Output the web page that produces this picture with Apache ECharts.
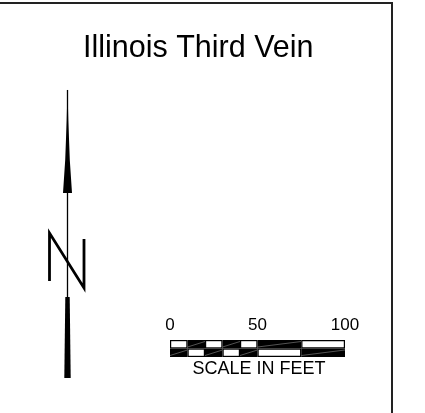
<!DOCTYPE html>
<html>
<head>
<meta charset="utf-8">
<script src="https://cdn.jsdelivr.net/npm/echarts@6/dist/echarts.min.js"></script>
<style>html,body{margin:0;padding:0;background:#fff}#c{width:425px;height:413px}</style>
</head>
<body>
<div id="c"></div>
<script>
// Data
const titleText = "Illinois Third Vein";
const scaleBreaks = [0, 10, 20, 30, 40, 50, 75, 100];   // feet
const scaleRows = ["top", "bottom"];
const topRowFill = ["white", "black", "white", "black", "white", "black", "white"];
const scaleTickLabels = [0, 50, 100];
const scaleCaption = "SCALE IN FEET";

// Build segment data: [start, end, rowIndex, isBlack]
const segData = [];
for (let i = 0; i < scaleBreaks.length - 1; i++) {
  const topBlack = topRowFill[i] === "black";
  segData.push([scaleBreaks[i], scaleBreaks[i + 1], 0, topBlack ? 1 : 0]);
  segData.push([scaleBreaks[i], scaleBreaks[i + 1], 1, topBlack ? 0 : 1]);
}

const chart = echarts.init(document.getElementById('c'), null, {renderer: 'canvas'});
const FONT = '"Liberation Sans", Arial, sans-serif';

chart.setOption({
  animation: false,
  backgroundColor: '#fff',
  title: {
    text: titleText,
    left: 78,
    top: 28,
    textStyle: {fontFamily: FONT, fontSize: 30.5, fontWeight: 'normal', color: '#000'}
  },
  grid: {left: 170, width: 175, top: 340, height: 17},
  xAxis: {
    type: 'value', min: 0, max: 100, interval: 50, position: 'top',
    axisLine: {show: false}, axisTick: {show: false}, splitLine: {show: false},
    axisLabel: {
      margin: 6, fontFamily: FONT, fontSize: 17, color: '#000',
      formatter: v => scaleTickLabels.indexOf(v) >= 0 ? String(v) : ''
    }
  },
  yAxis: {
    type: 'category', data: scaleRows, inverse: true, show: false
  },
  series: [{
    type: 'custom',
    data: segData,
    encode: {x: [0, 1], y: 2},
    renderItem: function (params, api) {
      const p0 = api.coord([api.value(0), scaleRows[api.value(2)]]);
      const p1 = api.coord([api.value(1), scaleRows[api.value(2)]]);
      const h = api.size([0, 1])[1];
      const x0 = p0[0], x1 = p1[0], y0 = p0[1] - h / 2, y1 = p0[1] + h / 2;
      const black = api.value(3) === 1;
      const children = [{
        type: 'rect', shape: {x: x0, y: y0, width: x1 - x0, height: h},
        style: {fill: '#000'}
      }];
      if (black) {
        children.push({
          type: 'line', shape: {x1: x0, y1: y1 - 1.5, x2: x1, y2: y0 + 1.5},
          style: {stroke: '#777', lineWidth: 0.7}
        });
      } else {
        children.push({
          type: 'rect', shape: {x: x0 + 1.2, y: y0 + 1.2, width: x1 - x0 - 2.4, height: h - 2.4},
          style: {fill: '#fff'}
        });
      }
      return {type: 'group', children: children};
    }
  }],
  graphic: [
    // frame
    {type: 'polyline', shape: {points: [[0, 3], [392, 3], [392, 413]]},
     style: {stroke: '#222', lineWidth: 2, fill: null}},
    // north arrow shaft
    {type: 'line', shape: {x1: 67.5, y1: 90, x2: 67.5, y2: 378}, style: {stroke: '#000', lineWidth: 1.3}},
    // upper arrow head
    {type: 'polygon', shape: {points: [[67.5, 89], [68.3, 120], [69.8, 160], [72, 193], [63, 193], [65.2, 160], [66.7, 120]]},
     style: {fill: '#000'}},
    // lower tail
    {type: 'polygon', shape: {points: [[65.3, 297], [69.7, 297], [70.7, 378], [64.3, 378]]},
     style: {fill: '#000'}},
    // N
    {type: 'polyline', shape: {points: [[49.5, 281], [49.5, 233], [84, 288], [84, 239]]},
     style: {stroke: '#000', lineWidth: 2.8, fill: null, lineJoin: 'miter'}},
    // caption
    {type: 'text', x: 259, y: 369.5,
     style: {text: scaleCaption, fontFamily: FONT, fontSize: 18, fill: '#000', align: 'center', verticalAlign: 'middle'}}
  ]
});
</script>
</body>
</html>
